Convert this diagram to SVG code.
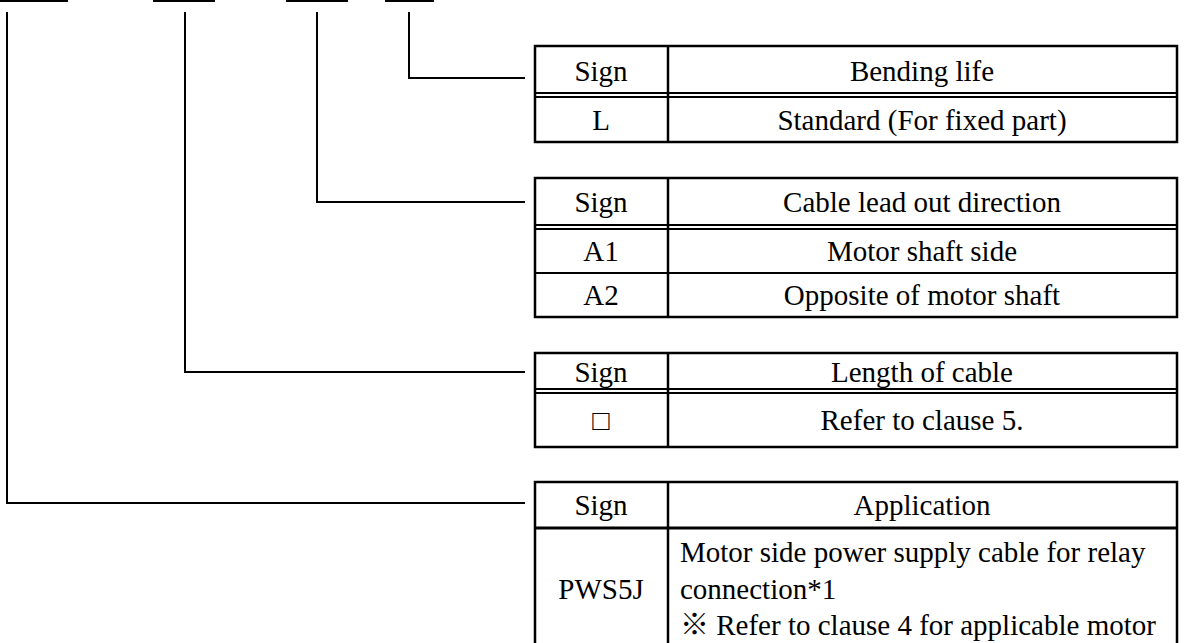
<svg xmlns="http://www.w3.org/2000/svg" width="1184" height="643" viewBox="0 0 1184 643">
<style>
.t{font-family:"Liberation Serif","Noto Sans CJK JP",serif;font-size:29px;fill:#000}
.c{text-anchor:middle}
.b{fill:none;stroke:#000;stroke-width:2.5}
.ln{fill:none;stroke:#000;stroke-width:2}
</style>
<rect width="1184" height="643" fill="#fff"/>
<g id="bars">
<rect x="0" y="0" width="68" height="2"/>
<rect x="153" y="0" width="62" height="2"/>
<rect x="286" y="0" width="62" height="2"/>
<rect x="385" y="0" width="49" height="2"/>
</g>
<g id="connectors">
<polyline class="ln" points="409,12 409,78 525,78"/>
<polyline class="ln" points="317,12 317,202 525,202"/>
<polyline class="ln" points="185,12 185,372 525,372"/>
<polyline class="ln" points="7,12 7,503 525,503"/>
</g>
<g id="table-bending">
<rect class="b" x="535" y="46" width="642" height="96"/>
<line class="b" x1="668" y1="46" x2="668" y2="142"/>
<line class="ln" x1="535" y1="93" x2="1177" y2="93"/>
<line class="ln" x1="535" y1="97" x2="1177" y2="97"/>
<text class="t c" x="601" y="81">Sign</text>
<text class="t c" x="922" y="81">Bending life</text>
<text class="t c" x="601" y="130">L</text>
<text class="t c" x="922" y="130">Standard (For fixed part)</text>
</g>
<g id="table-direction">
<rect class="b" x="535" y="178" width="642" height="139"/>
<line class="b" x1="668" y1="178" x2="668" y2="317"/>
<line class="ln" x1="535" y1="225" x2="1177" y2="225"/>
<line class="ln" x1="535" y1="229" x2="1177" y2="229"/>
<line class="ln" x1="535" y1="273" x2="1177" y2="273"/>
<text class="t c" x="601" y="212">Sign</text>
<text class="t c" x="922" y="212">Cable lead out direction</text>
<text class="t c" x="601" y="261">A1</text>
<text class="t c" x="922" y="261">Motor shaft side</text>
<text class="t c" x="601" y="305">A2</text>
<text class="t c" x="922" y="305">Opposite of motor shaft</text>
</g>
<g id="table-length">
<rect class="b" x="535" y="353" width="642" height="94"/>
<line class="b" x1="668" y1="353" x2="668" y2="447"/>
<line class="ln" x1="535" y1="389" x2="1177" y2="389"/>
<line class="ln" x1="535" y1="393" x2="1177" y2="393"/>
<text class="t c" x="601" y="382">Sign</text>
<text class="t c" x="922" y="382">Length of cable</text>
<text class="t c" x="601" y="430">□</text>
<text class="t c" x="922" y="430">Refer to clause 5.</text>
</g>
<g id="table-application">
<rect class="b" x="535" y="482" width="642" height="180"/>
<line class="b" x1="668" y1="482" x2="668" y2="662"/>
<line class="b" x1="535" y1="528" x2="1177" y2="528" style="stroke-width:3"/>
<text class="t c" x="601" y="515">Sign</text>
<text class="t c" x="922" y="515">Application</text>
<text class="t c" x="601" y="599">PWS5J</text>
<text class="t" x="680" y="562">Motor side power supply cable for relay</text>
<text class="t" x="680" y="599">connection*1</text>
<text class="t" x="680" y="635">※ Refer to clause 4 for applicable motor</text>
</g>
</svg>
